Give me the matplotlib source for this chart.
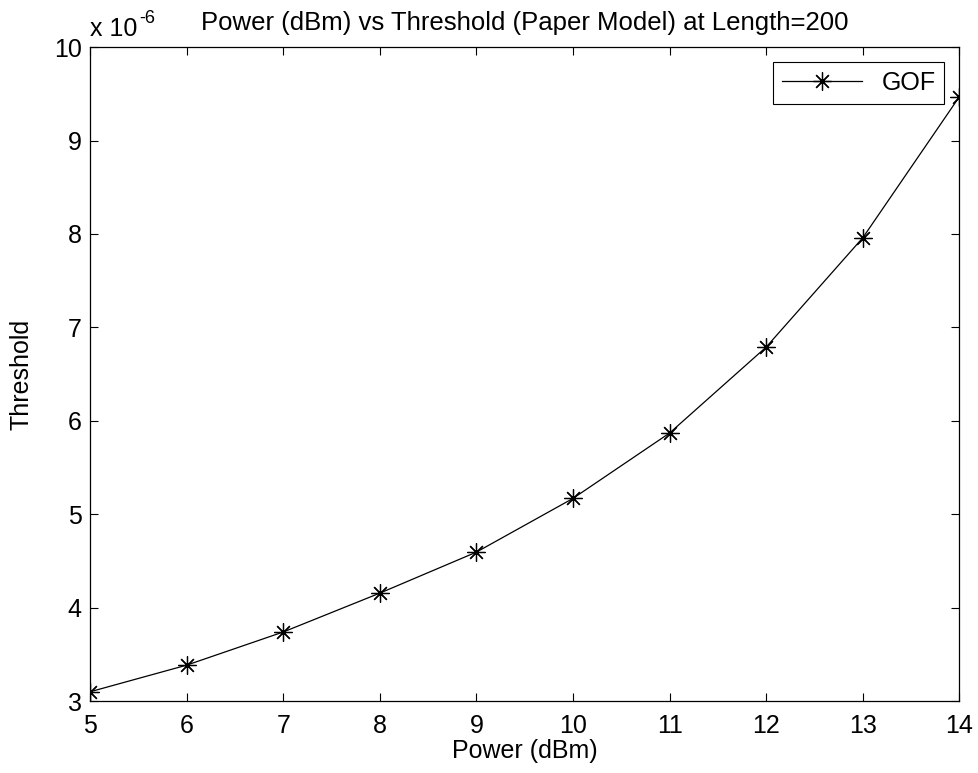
import numpy as np
import matplotlib
matplotlib.use("Agg")
import matplotlib.pyplot as plt
from matplotlib.ticker import FuncFormatter, MultipleLocator

plt.rcParams['font.family'] = ['Liberation Sans', 'DejaVu Sans']

#-- Data
power = [5, 6, 7, 8, 9, 10, 11, 12, 13, 14]
threshold = np.array([3.10, 3.385, 3.74, 4.156, 4.595, 5.17, 5.87, 6.79, 7.96, 9.47]) * 1e-6
scale = 1e-6

fs = 18

fig = plt.figure(figsize=(9.79, 7.73), dpi=100)
ax = fig.add_axes([0.092, 0.093, 0.888, 0.846])

ax.plot(power, threshold, color='black', linewidth=0.9, marker=(8, 2, 0),
        markersize=13, markeredgewidth=0.9, label='GOF')

ax.set_xlim(5, 14)
ax.set_ylim(3e-6, 10e-6)
ax.xaxis.set_major_locator(MultipleLocator(1))
ax.yaxis.set_major_locator(MultipleLocator(1e-6))
ax.yaxis.set_major_formatter(FuncFormatter(lambda v, p: "%g" % round(v / scale, 6)))

ax.tick_params(direction='in', length=6, width=0.8, top=True, right=True,
               labelsize=fs)
ax.tick_params(axis='x', pad=9)
ax.tick_params(axis='y', pad=6)
for s in ax.spines.values():
    s.set_linewidth(0.9)

#-- MATLAB style exponent label
t = ax.text(0.0, 1.01, "x 10", transform=ax.transAxes, fontsize=fs,
            ha='left', va='bottom')
ax.annotate("-6", xy=(1, 1), xycoords=t, xytext=(1, -1), textcoords='offset points',
            fontsize=fs * 0.72, ha='left', va='center')

ax.set_title("Power (dBm) vs Threshold (Paper Model) at Length=200", fontsize=fs + 0.5, pad=12)
ax.set_xlabel("Power (dBm)", fontsize=fs, labelpad=1)
ax.set_ylabel("Threshold", fontsize=fs, labelpad=15)

leg = ax.legend(loc='upper right', fontsize=fs, fancybox=False, handlelength=3.2,
                borderaxespad=0.6, framealpha=1, borderpad=0.35)
leg.get_frame().set_edgecolor('black')
leg.get_frame().set_linewidth(0.8)

plt.savefig('out.png', dpi=100)
